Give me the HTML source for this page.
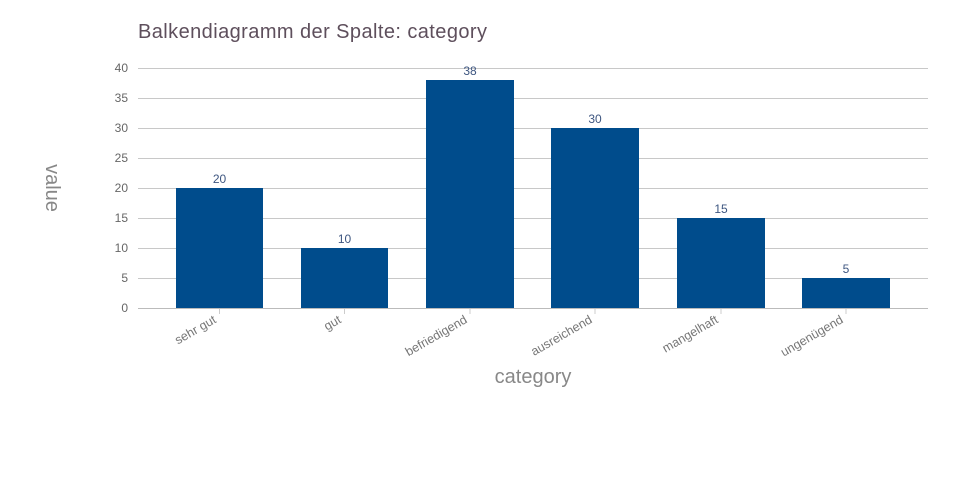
<!DOCTYPE html>
<html><head><meta charset="utf-8"><style>
html,body{margin:0;padding:0;background:#fff;}
svg{display:block;font-family:"Liberation Sans",sans-serif;}
</style></head><body>
<svg width="960" height="500" viewBox="0 0 960 500" xmlns="http://www.w3.org/2000/svg">
<rect width="960" height="500" fill="#fff"/>
<text x="138" y="38" font-size="20" fill="#5e4f5c" textLength="349">Balkendiagramm der Spalte: category</text>
<g stroke="#c8c8c8" stroke-width="1">
<line x1="138" x2="928" y1="68.5" y2="68.5"/>
<line x1="138" x2="928" y1="98.5" y2="98.5"/>
<line x1="138" x2="928" y1="128.5" y2="128.5"/>
<line x1="138" x2="928" y1="158.5" y2="158.5"/>
<line x1="138" x2="928" y1="188.5" y2="188.5"/>
<line x1="138" x2="928" y1="218.5" y2="218.5"/>
<line x1="138" x2="928" y1="248.5" y2="248.5"/>
<line x1="138" x2="928" y1="278.5" y2="278.5"/>
</g>
<g font-size="12" fill="#666" text-anchor="end">
<text x="128" y="72">40</text><text x="128" y="102">35</text><text x="128" y="132">30</text>
<text x="128" y="162">25</text><text x="128" y="192">20</text><text x="128" y="222">15</text>
<text x="128" y="252">10</text><text x="128" y="282">5</text><text x="128" y="312">0</text>
</g>
<g fill="#004c8c">
<rect x="176" y="188" width="87" height="120"/>
<rect x="301" y="248" width="87" height="60"/>
<rect x="426" y="80" width="88" height="228"/>
<rect x="551" y="128" width="88" height="180"/>
<rect x="677" y="218" width="88" height="90"/>
<rect x="802" y="278" width="88" height="30"/>
</g>
<line x1="138" x2="928" y1="308.5" y2="308.5" stroke="#bbb"/>
<g stroke="#ccc">
<line x1="219.5" x2="219.5" y1="309" y2="314"/><line x1="344.5" x2="344.5" y1="309" y2="314"/>
<line x1="470" x2="470" y1="309" y2="314"/><line x1="595" x2="595" y1="309" y2="314"/>
<line x1="721" x2="721" y1="309" y2="314"/><line x1="846" x2="846" y1="309" y2="314"/>
</g>
<g font-size="12" fill="#3e5680" text-anchor="middle">
<text x="219.5" y="183">20</text><text x="344.5" y="243">10</text><text x="470" y="75">38</text>
<text x="595" y="123">30</text><text x="721" y="213">15</text><text x="846" y="273">5</text>
</g>
<g font-size="12.5" fill="#777" text-anchor="end">
<text transform="translate(217,322) rotate(-30)">sehr gut</text>
<text transform="translate(342,322) rotate(-30)">gut</text>
<text transform="translate(468,322) rotate(-30)">befriedigend</text>
<text transform="translate(593,322) rotate(-30)">ausreichend</text>
<text transform="translate(719,322) rotate(-30)">mangelhaft</text>
<text transform="translate(844,322) rotate(-30)">ungenügend</text>
</g>
<text x="533" y="383" font-size="20" fill="#888" text-anchor="middle">category</text>
<text transform="translate(46,188) rotate(90)" font-size="20" fill="#888" text-anchor="middle">value</text>
</svg>
</body></html>
